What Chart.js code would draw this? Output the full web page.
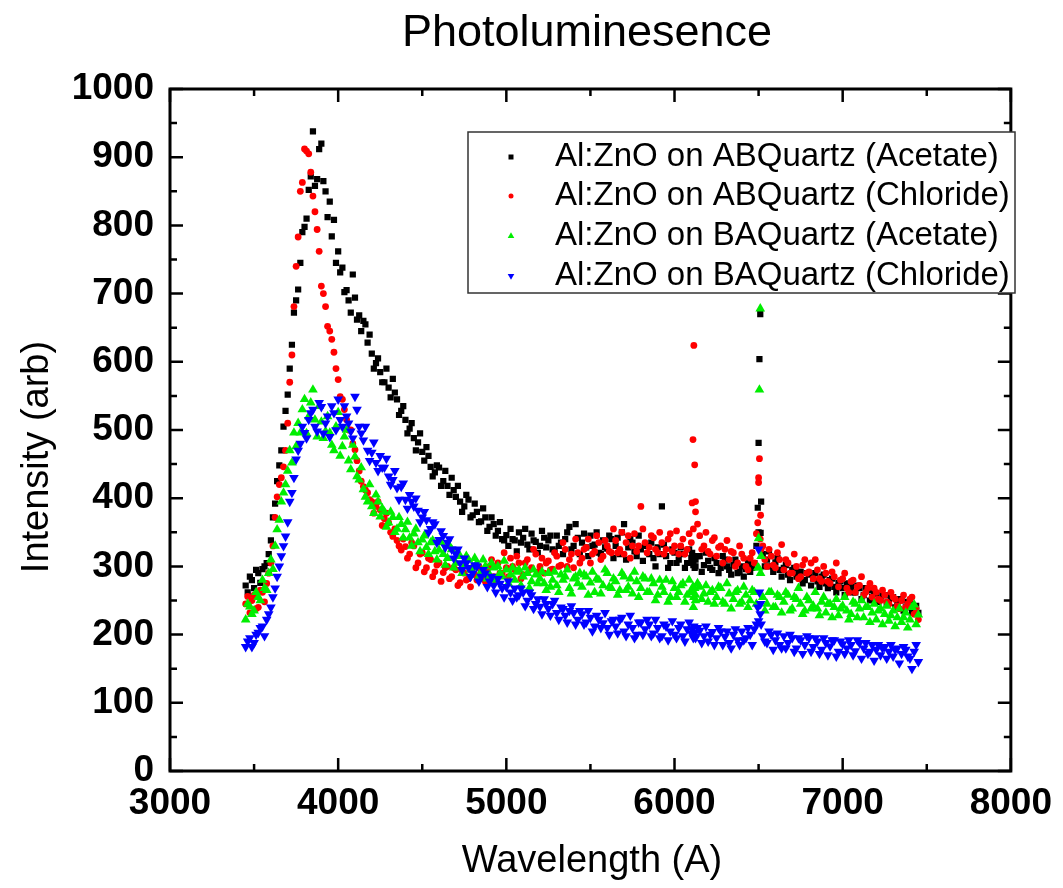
<!DOCTYPE html>
<html>
<head>
<meta charset="utf-8">
<title>Photoluminesence</title>
<script src="https://cdn.jsdelivr.net/npm/chart.js@4.4.0/dist/chart.umd.min.js"></script>
<style>
  html, body { margin: 0; padding: 0; background: #fff; }
  #plChart { display: block; }
</style>
</head>
<body>
<canvas id="plChart" width="1063" height="888"></canvas>
<script>
// wavelength grid (A)
const wavelength = [
  3450, 3475, 3500, 3525, 3550, 3575, 3600, 3625,
  3650, 3675, 3700, 3725, 3750, 3775, 3800, 3825,
  3850, 3875, 3900, 3925, 3950, 3975, 4000, 4025,
  4050, 4075, 4100, 4125, 4150, 4175, 4200, 4225,
  4250, 4275, 4300, 4325, 4350, 4375, 4400, 4425,
  4450, 4475, 4500, 4525, 4550, 4575, 4600, 4625,
  4650, 4675, 4700, 4725, 4750, 4775, 4800, 4825,
  4850, 4875, 4900, 4925, 4950, 4975, 5000, 5025,
  5050, 5075, 5100, 5125, 5150, 5175, 5200, 5225,
  5250, 5275, 5300, 5325, 5350, 5375, 5400, 5425,
  5450, 5475, 5500, 5525, 5550, 5575, 5600, 5625,
  5650, 5675, 5700, 5725, 5750, 5775, 5800, 5825,
  5850, 5875, 5900, 5925, 5950, 5975, 6000, 6025,
  6050, 6075, 6100, 6125, 6150, 6175, 6200, 6225,
  6250, 6275, 6300, 6325, 6350, 6375, 6400, 6425,
  6450, 6475, 6500, 6525, 6550, 6575, 6600, 6625,
  6650, 6675, 6700, 6725, 6750, 6775, 6800, 6825,
  6850, 6875, 6900, 6925, 6950, 6975, 7000, 7025,
  7050, 7075, 7100, 7125, 7150, 7175, 7200, 7225,
  7250, 7275, 7300, 7325, 7350, 7375, 7400, 7425,
  7450
];

// the in-between samples
const wavelengthB = [
  3462, 3487, 3512, 3537, 3562, 3587, 3612, 3637,
  3662, 3687, 3712, 3737, 3762, 3787, 3812, 3837,
  3862, 3887, 3912, 3937, 3962, 3987, 4012, 4037,
  4062, 4087, 4112, 4137, 4162, 4187, 4212, 4237,
  4262, 4287, 4312, 4337, 4362, 4387, 4412, 4437,
  4462, 4487, 4512, 4537, 4562, 4587, 4612, 4637,
  4662, 4687, 4712, 4737, 4762, 4787, 4812, 4837,
  4862, 4887, 4912, 4937, 4962, 4987, 5012, 5037,
  5062, 5087, 5112, 5137, 5162, 5187, 5212, 5237,
  5262, 5287, 5312, 5337, 5362, 5387, 5412, 5437,
  5462, 5487, 5512, 5537, 5562, 5587, 5612, 5637,
  5662, 5687, 5712, 5737, 5762, 5787, 5812, 5837,
  5862, 5887, 5912, 5937, 5962, 5987, 6012, 6037,
  6062, 6087, 6112, 6137, 6162, 6187, 6212, 6237,
  6262, 6287, 6312, 6337, 6362, 6387, 6412, 6437,
  6462, 6487, 6512, 6537, 6562, 6587, 6612, 6637,
  6662, 6687, 6712, 6737, 6762, 6787, 6812, 6837,
  6862, 6887, 6912, 6937, 6962, 6987, 7012, 7037,
  7062, 7087, 7112, 7137, 7162, 7187, 7212, 7237,
  7262, 7287, 7312, 7337, 7362, 7387, 7412, 7437
];

// closely spaced samples around the two sharp lines
const spikeWavelength = [6105, 6110, 6115, 6120, 6125, 6495, 6500, 6505, 6510, 6515];

// Al:ZnO on ABQuartz (Acetate)
const abAcetate = [
  272, 285, 268, 290, 296, 305, 338, 392,
  448, 505, 552, 625, 690, 745, 798, 852,
  938, 868, 920, 850, 835, 808, 762, 738,
  705, 672, 694, 668, 660, 628, 612, 598,
  585, 570, 562, 575, 545, 528, 515, 502,
  488, 482, 468, 475, 446, 438, 445, 425,
  418, 430, 402, 395, 388, 398, 375, 380,
  366, 372, 358, 362, 352, 340, 346, 355,
  338, 350, 342, 332, 348, 336, 330, 342,
  338, 325, 345, 335, 340, 358, 330, 342,
  335, 328, 345, 332, 320, 338, 326, 340,
  330, 318, 362, 328, 335, 315, 325, 332,
  318, 312, 328, 388, 315, 305, 320, 310,
  318, 305, 312, 300, 315, 302, 308, 295,
  305, 298, 310, 295, 302, 290, 300, 296,
  292, 305, 350, 318, 310, 300, 306, 295,
  298, 288, 295, 285, 292, 280, 288, 282,
  278, 285, 275, 280, 270, 276, 268, 274,
  270, 262, 268, 258, 265, 255, 260, 252,
  258, 248, 255, 245, 250, 240, 246, 236,
  232
];
const abAcetateB = [
  262, 280, 295, 276, 300, 318, 372, 425,
  470, 528, 590, 672, 706, 790, 810, 872,
  858, 912, 865, 812, 784, 745, 731, 702,
  690, 728, 662, 645, 655, 640, 590, 605,
  570, 590, 548, 555, 522, 535, 495, 510,
  470, 495, 455, 462, 432, 448, 418, 440,
  405, 412, 418, 380, 405, 372, 392, 365,
  385, 352, 372, 345, 365, 338, 330, 340,
  322, 335, 355, 325, 338, 320, 352, 328,
  345, 322, 330, 318, 350, 325, 362, 318,
  348, 315, 330, 350, 318, 328, 345, 312,
  342, 350, 310, 340, 322, 345, 308, 330,
  335, 300, 318, 332, 298, 325, 305, 328,
  298, 325, 302, 315, 292, 320, 298, 312,
  290, 315, 300, 288, 310, 292, 285, 305,
  298, 330, 349, 300, 322, 292, 312, 285,
  302, 280, 298, 292, 275, 290, 272, 290,
  270, 288, 268, 282, 262, 278, 258, 275,
  262, 272, 252, 268, 250, 262, 248, 258,
  245, 256, 240, 252, 235, 248, 232, 242
];
const abAcetateSpike = [320, 305, 315, 298, 310, 386, 481, 604, 670, 395];

// Al:ZnO on ABQuartz (Chloride)
const abChloride = [
  245, 232, 258, 240, 262, 275, 305, 372,
  420, 446, 510, 610, 740, 850, 912, 905,
  843, 794, 711, 681, 645, 614, 574, 545,
  515, 500, 471, 440, 417, 408, 395, 388,
  383, 370, 364, 344, 338, 324, 329, 318,
  330, 305, 320, 298, 310, 292, 305, 291,
  300, 285, 295, 276, 290, 282, 298, 280,
  292, 278, 300, 285, 305, 290, 298, 312,
  295, 305, 288, 310, 298, 318, 300, 290,
  308, 296, 315, 302, 325, 310, 298, 320,
  312, 328, 305, 322, 335, 315, 330, 320,
  338, 325, 318, 345, 330, 322, 388, 335,
  328, 342, 320, 335, 325, 348, 330, 318,
  340, 325, 335, 380, 345, 330, 322, 338,
  315, 330, 325, 310, 320, 305, 318, 300,
  312, 305, 430, 330, 300, 315, 298, 310,
  295, 305, 290, 300, 285, 310, 292, 282,
  295, 278, 290, 275, 285, 270, 282, 268,
  278, 262, 272, 258, 268, 255, 262, 250,
  258, 245, 255, 242, 250, 240, 252, 230,
  222
];
const abChlorideB = [
  256, 250, 238, 265, 248, 290, 330, 402,
  430, 470, 570, 681, 783, 863, 909, 878,
  820, 762, 700, 652, 633, 590, 549, 530,
  500, 480, 455, 425, 412, 398, 378, 395,
  360, 378, 350, 355, 330, 340, 312, 335,
  298, 318, 292, 312, 285, 302, 278, 298,
  282, 298, 272, 292, 280, 270, 288, 300,
  282, 295, 310, 278, 290, 320, 285, 300,
  315, 282, 305, 295, 325, 292, 312, 305,
  295, 320, 300, 335, 300, 318, 340, 305,
  325, 340, 318, 345, 310, 338, 322, 355,
  320, 350, 335, 312, 348, 330, 355, 320,
  345, 325, 350, 318, 340, 322, 352, 330,
  318, 348, 355, 362, 325, 350, 318, 342,
  328, 305, 338, 322, 300, 330, 312, 295,
  320, 348, 375, 310, 325, 302, 320, 332,
  310, 290, 318, 282, 302, 290, 305, 310,
  282, 300, 278, 292, 305, 280, 290, 262,
  280, 270, 285, 262, 275, 268, 252, 265,
  248, 262, 252, 238, 258, 245, 255, 238
];
const abChlorideSpike = [393, 486, 624, 449, 395, 364, 423, 458, 340, 325];

// Al:ZnO on BAQuartz (Acetate)
const baAcetate = [
  222, 241, 235, 255, 280, 265, 310, 330,
  368, 408, 440, 452, 476, 496, 545, 520,
  559, 490, 512, 498, 496, 470, 526, 476,
  500, 442, 461, 427, 413, 395, 388, 405,
  373, 380, 364, 372, 355, 362, 354, 342,
  348, 335, 339, 328, 335, 322, 324, 318,
  312, 325, 305, 315, 300, 310, 298, 305,
  292, 300, 288, 298, 300, 285, 295, 288,
  280, 295, 285, 290, 278, 288, 282, 275,
  290, 280, 272, 288, 285, 268, 282, 275,
  270, 285, 276, 262, 280, 272, 290, 268,
  278, 265, 285, 270, 260, 278, 268, 282,
  262, 275, 258, 270, 280, 255, 268, 262,
  275, 258, 265, 250, 270, 260, 248, 265,
  255, 268, 245, 260, 252, 265, 248, 258,
  250, 262, 298, 255, 245, 262, 240, 255,
  248, 258, 238, 252, 245, 235, 250, 242,
  238, 248, 232, 245, 240, 228, 242, 235,
  230, 245, 238, 225, 240, 232, 222, 238,
  230, 220, 235, 225, 218, 232, 222, 244,
  229
];
const baAcetateB = [
  245, 230, 262, 250, 268, 290, 296, 354,
  395, 420, 470, 496, 510, 530, 495, 540,
  515, 535, 488, 520, 478, 505, 462, 490,
  455, 478, 432, 445, 402, 420, 378, 395,
  385, 358, 380, 350, 372, 342, 365, 330,
  355, 322, 345, 318, 338, 310, 335, 302,
  330, 298, 318, 290, 315, 295, 312, 285,
  310, 282, 305, 280, 290, 308, 275, 298,
  292, 272, 298, 268, 295, 275, 292, 265,
  270, 292, 262, 280, 295, 260, 285, 290,
  288, 258, 292, 282, 260, 295, 270, 282,
  258, 290, 265, 282, 292, 255, 285, 262,
  282, 250, 280, 262, 248, 278, 255, 272,
  248, 280, 240, 275, 252, 272, 262, 245,
  270, 248, 275, 238, 262, 245, 270, 240,
  265, 245, 290, 235, 262, 240, 258, 232,
  262, 235, 255, 268, 230, 255, 238, 262,
  228, 255, 245, 225, 252, 238, 255, 222,
  248, 225, 250, 240, 218, 245, 235, 215,
  242, 228, 212, 238, 225, 210, 240, 215
];
const baAcetateSpike = [262, 270, 255, 268, 258, 298, 341, 559, 678, 315];

// Al:ZnO on BAQuartz (Chloride)
const baChloride = [
  182, 195, 188, 203, 212, 222, 240, 268,
  300, 330, 365, 408, 457, 480, 496, 515,
  530, 498, 534, 510, 490, 525, 545, 505,
  520, 498, 549, 505, 485, 470, 467, 452,
  462, 445, 432, 427, 415, 417, 398, 405,
  388, 382, 372, 368, 355, 362, 339, 345,
  335, 325, 318, 305, 312, 298, 290, 300,
  285, 290, 278, 272, 282, 268, 270, 262,
  268, 258, 262, 250, 258, 245, 241, 252,
  238, 245, 232, 240, 228, 235, 232, 222,
  230, 218, 225, 212, 222, 217, 210, 220,
  212, 222, 205, 215, 210, 200, 218, 208,
  215, 202, 210, 198, 212, 205, 200, 210,
  198, 208, 202, 195, 206, 198, 190, 204,
  195, 205, 197, 188, 200, 192, 205, 195,
  200, 208, 220, 198, 188, 200, 192, 185,
  198, 188, 195, 180, 192, 185, 195, 182,
  190, 178, 188, 183, 192, 175, 186, 180,
  185, 176, 188, 180, 172, 185, 178, 170,
  182, 175, 168, 180, 172, 178, 165, 175,
  160
];
const baChlorideB = [
  190, 182, 200, 210, 198, 230, 255, 285,
  315, 344, 395, 430, 470, 505, 488, 525,
  505, 540, 495, 520, 535, 500, 515, 535,
  510, 488, 530, 495, 505, 455, 482, 440,
  445, 458, 420, 440, 398, 422, 385, 395,
  400, 365, 380, 350, 365, 335, 352, 328,
  340, 312, 325, 295, 305, 285, 302, 278,
  295, 270, 285, 262, 275, 255, 278, 250,
  255, 268, 242, 262, 238, 252, 230, 245,
  228, 250, 222, 238, 218, 242, 215, 235,
  215, 235, 205, 228, 210, 232, 200, 222,
  202, 225, 198, 228, 195, 218, 200, 222,
  198, 222, 195, 215, 192, 220, 195, 215,
  190, 218, 195, 210, 188, 212, 200, 185,
  210, 185, 205, 180, 208, 185, 192, 210,
  185, 215, 245, 190, 205, 178, 202, 180,
  180, 200, 175, 195, 172, 198, 175, 195,
  172, 195, 170, 192, 168, 190, 172, 192,
  170, 192, 165, 188, 175, 162, 185, 180,
  165, 185, 178, 158, 182, 168, 150, 185
];
const baChlorideSpike = [208, 200, 212, 203, 198, 240, 325, 262, 230, 215];

const seriesNames = [
  'Al:ZnO on ABQuartz (Acetate)',
  'Al:ZnO on ABQuartz (Chloride)',
  'Al:ZnO on BAQuartz (Acetate)',
  'Al:ZnO on BAQuartz (Chloride)'
];
const seriesColors = ['#000000', '#ff0000', '#00ee00', '#0000ff'];

const FONT = "'Liberation Sans', Arial, sans-serif";

function toPoints(values, valuesB, spikeValues) {
  const pts = wavelength.map((x, i) => ({ x: x, y: values[i] }));
  const mid = wavelengthB.map((x, i) => ({ x: x, y: valuesB[i] }));
  const spike = spikeWavelength.map((x, i) => ({ x: x, y: spikeValues[i] }));
  return pts.concat(mid, spike);
}

function drawMarker(ctx, kind, x, y, r) {
  ctx.beginPath();
  if (kind === 'rect') {
    ctx.rect(x - r, y - r, 2 * r, 2 * r);
  } else if (kind === 'circle') {
    ctx.arc(x, y, r, 0, Math.PI * 2);
  } else if (kind === 'up') {
    ctx.moveTo(x, y - r);
    ctx.lineTo(x + r * 0.87, y + r * 0.5);
    ctx.lineTo(x - r * 0.87, y + r * 0.5);
  } else {
    ctx.moveTo(x, y + r);
    ctx.lineTo(x + r * 0.87, y - r * 0.5);
    ctx.lineTo(x - r * 0.87, y - r * 0.5);
  }
  ctx.closePath();
  ctx.fill();
}

// frame with inward ticks on all four sides, titles and the boxed legend
const framePlugin = {
  id: 'frame',
  afterDraw(chart) {
    const { ctx, chartArea: a, scales: { x, y } } = chart;
    ctx.save();
    ctx.strokeStyle = '#000';
    ctx.lineWidth = 2.5;
    ctx.beginPath();
    for (let v = 3000; v <= 8000; v += 500) {
      const px = x.getPixelForValue(v);
      const len = v % 1000 === 0 ? 13 : 7;
      ctx.moveTo(px, a.bottom); ctx.lineTo(px, a.bottom - len);
      ctx.moveTo(px, a.top); ctx.lineTo(px, a.top + len);
    }
    for (let v = 0; v <= 1000; v += 50) {
      const py = y.getPixelForValue(v);
      const len = v % 100 === 0 ? 13 : 7;
      ctx.moveTo(a.left, py); ctx.lineTo(a.left + len, py);
      ctx.moveTo(a.right, py); ctx.lineTo(a.right - len, py);
    }
    ctx.stroke();
    ctx.lineWidth = 3;
    ctx.strokeRect(a.left, a.top, a.right - a.left, a.bottom - a.top);

    ctx.fillStyle = '#000';
    ctx.textAlign = 'center';
    ctx.textBaseline = 'middle';
    ctx.font = '45px ' + FONT;
    ctx.fillText('Photoluminesence', 587, 34);
    ctx.font = '38px ' + FONT;
    ctx.fillText('Wavelength (A)', 592, 862);
    ctx.save();
    ctx.translate(38, 457);
    ctx.rotate(-Math.PI / 2);
    ctx.fillText('Intensity (arb)', 0, 0);
    ctx.restore();

    // legend
    ctx.fillStyle = '#fff';
    ctx.fillRect(468, 132, 547, 161);
    ctx.lineWidth = 1.5;
    ctx.strokeStyle = '#333';
    ctx.strokeRect(468, 132, 547, 161);
    const kinds = ['rect', 'circle', 'up', 'down'];
    const sizes = [2.5, 2.5, 3.8, 3.8];
    const rows = [157, 196, 236, 276];
    ctx.textAlign = 'left';
    ctx.font = '33px ' + FONT;
    seriesNames.forEach((name, i) => {
      ctx.fillStyle = seriesColors[i];
      drawMarker(ctx, kinds[i], 511, rows[i], sizes[i]);
      ctx.fillStyle = '#000';
      ctx.fillText(name, 555, rows[i]);
    });
    ctx.restore();
  }
};

const tickFont = { family: FONT, size: 37, weight: 'bold' };

const data = {
  datasets: [
    {
      label: seriesNames[0],
      data: toPoints(abAcetate, abAcetateB, abAcetateSpike),
      pointStyle: 'rect',
      pointRadius: 4.4,
      backgroundColor: seriesColors[0],
      pointBorderWidth: 0,
      order: 4,
    },
    {
      label: seriesNames[1],
      data: toPoints(abChloride, abChlorideB, abChlorideSpike),
      pointStyle: 'circle',
      pointRadius: 3.4,
      backgroundColor: seriesColors[1],
      pointBorderWidth: 0,
      order: 3,
    },
    {
      label: seriesNames[2],
      data: toPoints(baAcetate, baAcetateB, baAcetateSpike),
      pointStyle: 'triangle',
      pointRadius: 5.6,
      backgroundColor: seriesColors[2],
      pointBorderWidth: 0,
      order: 2,
    },
    {
      label: seriesNames[3],
      data: toPoints(baChloride, baChlorideB, baChlorideSpike),
      pointStyle: 'triangle',
      pointRotation: 180,
      pointRadius: 5.6,
      backgroundColor: seriesColors[3],
      pointBorderWidth: 0,
      order: 1,
    },
  ],
};

// CONFIG
const config = {
  type: 'scatter',
  data,
  options: {
    responsive: false,
    animation: false,
    events: [],
    layout: { padding: { top: 89, right: 46, left: 0, bottom: 0 } },
    plugins: {
      legend: { display: false },
      title: { display: false },
      tooltip: { enabled: false },
    },
    scales: {
      x: {
        type: 'linear',
        min: 3000,
        max: 8000,
        grid: { display: false, drawTicks: false },
        border: { display: false },
        ticks: {
          stepSize: 1000,
          padding: 11,
          color: '#000',
          font: tickFont,
          maxRotation: 0,
          callback: (v) => String(v),
        },
        afterFit(scale) { scale.height = 117; },
      },
      y: {
        type: 'linear',
        min: 0,
        max: 1000,
        grid: { display: false, drawTicks: false },
        border: { display: false },
        ticks: {
          stepSize: 100,
          padding: 16,
          color: '#000',
          font: tickFont,
          callback: (v) => String(v),
        },
        afterFit(scale) { scale.width = 170; },
      },
    },
  },
  plugins: [framePlugin],
};

// RENDER
const plChart = new Chart(document.getElementById('plChart'), config);
</script>
</body>
</html>
